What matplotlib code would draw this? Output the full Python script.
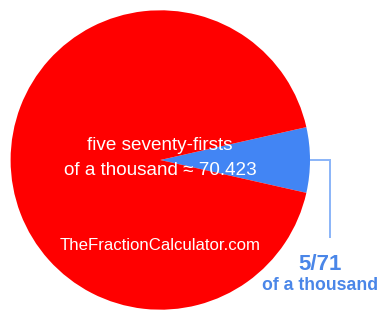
import matplotlib
matplotlib.use("Agg")
import matplotlib.pyplot as plt

# Data
labels = ["5/71", "rest"]
values = [5, 66]
colors = ["#4285f4", "#ff0000"]
title_lines = ["five seventy-firsts", "of a thousand \u2248 70.423"]
site = "TheFractionCalculator.com"
label_main = "5/71"
label_sub = "of a thousand"

W, H = 385, 320
fig = plt.figure(figsize=(W / 100, H / 100), dpi=100)
ax = fig.add_axes([0, 0, 1, 1])
ax.set_xlim(0, W)
ax.set_ylim(0, H)
ax.set_aspect("equal")
ax.axis("off")

def Y(py):
    return H - py

cx, cy, r = 160.3, 160, 149.7
start = -180.0 * values[0] / sum(values)
ax.pie(values, colors=colors, startangle=start, center=(cx, Y(cy)), radius=r,
       counterclock=True, wedgeprops=dict(linewidth=0), frame=True)
ax.set_xlim(0, W)
ax.set_ylim(0, H)
ax.axis("off")

fam = ["Liberation Sans", "DejaVu Sans"]
ax.text(160, Y(150), title_lines[0], color="white", fontsize=13.6, family=fam,
        ha="center", va="baseline")
ax.text(160, Y(175), title_lines[1], color="white", fontsize=13.6, family=fam,
        ha="center", va="baseline")
ax.text(160, Y(250), site, color="white", fontsize=12.1, family=fam,
        ha="center", va="baseline")

# leader line
ax.plot([cx + r, 330, 330], [Y(160), Y(160), Y(238)], color="#8ab4f8",
        linewidth=1.4, solid_capstyle="butt", solid_joinstyle="miter")

ax.text(320.5, Y(270), label_main, color="#4a86e8", fontsize=16, family=fam,
        fontweight="bold", ha="center", va="baseline")
ax.text(320, Y(290), label_sub, color="#4a86e8", fontsize=12.7, family=fam,
        fontweight="bold", ha="center", va="baseline")

fig.savefig("out.png", dpi=100)
